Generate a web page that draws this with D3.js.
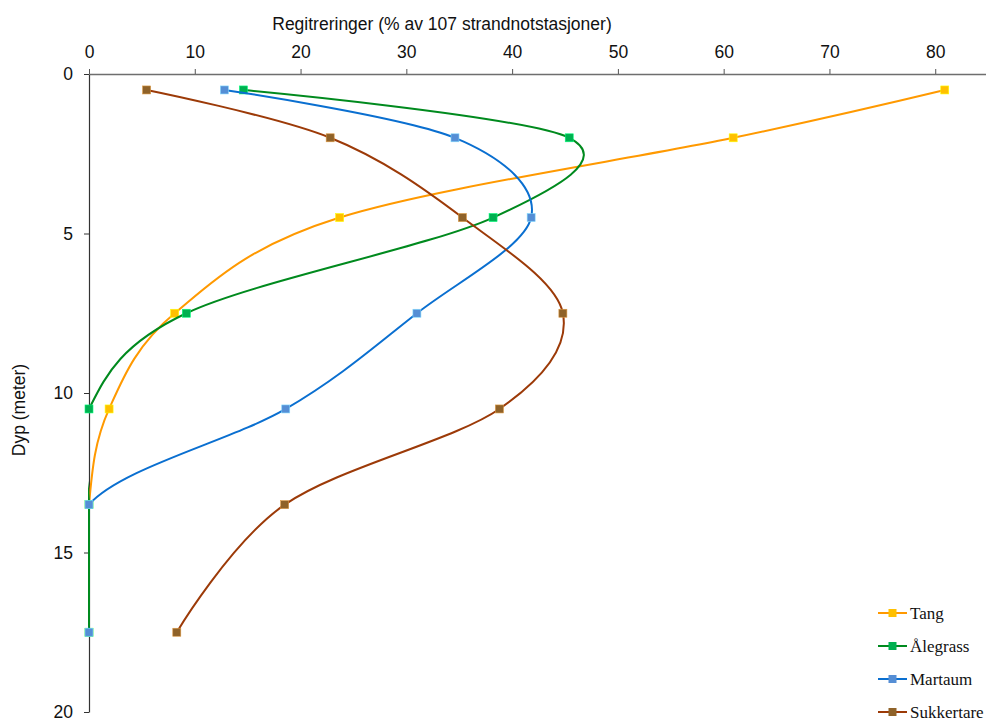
<!DOCTYPE html>
<html>
<head>
<meta charset="utf-8">
<script src="https://cdn.jsdelivr.net/npm/d3@7"></script>
<style>
  body { margin: 0; background: #fff; }
  svg { display: block; }
</style>
</head>
<body>
<div id="chart"></div>
<script>
/* Dybdefordeling av vegetasjon — strandnot */

const depths = [0.5, 2, 4.5, 7.5, 10.5, 13.5, 17.5];
const seriesNames = ["Tang", "Ålegrass", "Martaum", "Sukkertare"];
const tang = [80.9, 60.9, 23.7, 8.1, 1.9, 0, 0];
const alegrass = [14.6, 45.4, 38.2, 9.2, 0, 0, 0];
const martaum = [12.8, 34.6, 41.8, 31.0, 18.6, 0, 0];
const sukkertare = [5.45, 22.8, 35.3, 44.8, 38.8, 18.5, 8.3];
const xTicks = [0, 10, 20, 30, 40, 50, 60, 70, 80];
const yTicks = [0, 5, 10, 15, 20];

const lineColors = ["#ff9900", "#008a1e", "#0a6fd0", "#9c3a08"];
const markColors = ["#ffc000", "#00b050", "#558ed5", "#8f6229"];

const width = 986, height = 720;
const margin = { top: 74, right: 0, bottom: 8, left: 89 };

const svg = d3.select("#chart").append("svg")
  .attr("width", width)
  .attr("height", height)
  .style("font-family", "Liberation Sans, Arial, sans-serif");

const x = d3.scaleLinear()
  .domain([0, 84.8])
  .range([margin.left, width - margin.right]);

const y = d3.scaleLinear()
  .domain([0, 20])
  .range([margin.top, height - margin.bottom]);

// X axis (top)
svg.append("g")
  .attr("transform", `translate(0, ${y(0)})`)
  .call(d3.axisTop(x).tickValues(xTicks).tickSize(5).tickSizeOuter(0).tickPadding(11))
  .call(g => g.select(".domain").attr("stroke", "#6e6e6e").attr("stroke-width", 1.5))
  .call(g => g.selectAll(".tick line").attr("stroke", "#555"))
  .call(g => g.selectAll("text").attr("fill", "#111").attr("font-size", 17.5));

// Y axis
svg.append("g")
  .attr("transform", `translate(${x(0)}, 0)`)
  .call(d3.axisLeft(y).tickValues(yTicks).tickSize(5).tickSizeOuter(0).tickPadding(11))
  .call(g => g.select(".domain").attr("stroke", "#333").attr("stroke-width", 1.2))
  .call(g => g.selectAll(".tick line").attr("stroke", "#333"))
  .call(g => g.selectAll("text").attr("fill", "#111").attr("font-size", 17.5));

// Axis titles
svg.append("text")
  .attr("x", 442)
  .attr("y", 30)
  .attr("text-anchor", "middle")
  .attr("font-size", 17.5)
  .attr("fill", "#111")
  .text("Regitreringer (% av 107 strandnotstasjoner)");

svg.append("text")
  .attr("transform", `translate(25, 410) rotate(-90)`)
  .attr("text-anchor", "middle")
  .attr("font-size", 17.5)
  .attr("fill", "#111")
  .text("Dyp (meter)");

// Clip to plot area
svg.append("clipPath").attr("id", "plot")
  .append("rect")
  .attr("x", x(0) - 1)
  .attr("y", y(0))
  .attr("width", width - x(0) + 1)
  .attr("height", y(20) - y(0));

const series = [tang, alegrass, martaum, sukkertare].map((vals, k) => ({
  name: seriesNames[k],
  points: vals.map((v, i) => ({ v, d: depths[i] })),
  k
}));

const line = d3.line()
  .x(p => x(p.v))
  .y(p => y(p.d))
  .curve(d3.curveCardinal.tension(0));

const plot = svg.append("g");

series.forEach(s => {
  plot.append("path")
    .datum(s.points)
    .attr("d", line)
    .attr("fill", "none")
    .attr("stroke", lineColors[s.k])
    .attr("stroke-width", 2)
    .attr("clip-path", "url(#plot)");

  plot.selectAll(null)
    .data(s.points)
    .join("rect")
    .attr("x", p => x(p.v) - 4)
    .attr("y", p => y(p.d) - 4)
    .attr("width", 8)
    .attr("height", 8)
    .attr("fill", markColors[s.k])
    .attr("stroke", d3.color(markColors[s.k]).brighter(1.2))
    .attr("stroke-width", 0.6);
});

// Legend
const legend = svg.append("g")
  .style("font-family", "Liberation Serif, Times New Roman, serif");

series.forEach((s, i) => {
  const ly = 613 + i * 33;
  legend.append("line")
    .attr("x1", 878).attr("x2", 907)
    .attr("y1", ly).attr("y2", ly)
    .attr("stroke", lineColors[s.k])
    .attr("stroke-width", 2);
  legend.append("rect")
    .attr("x", 888.5).attr("y", ly - 4)
    .attr("width", 8).attr("height", 8)
    .attr("fill", markColors[s.k]);
  legend.append("text")
    .attr("x", 910)
    .attr("y", ly + 6)
    .attr("font-size", 17)
    .attr("fill", "#111")
    .text(s.name);
});
</script>
</body>
</html>
